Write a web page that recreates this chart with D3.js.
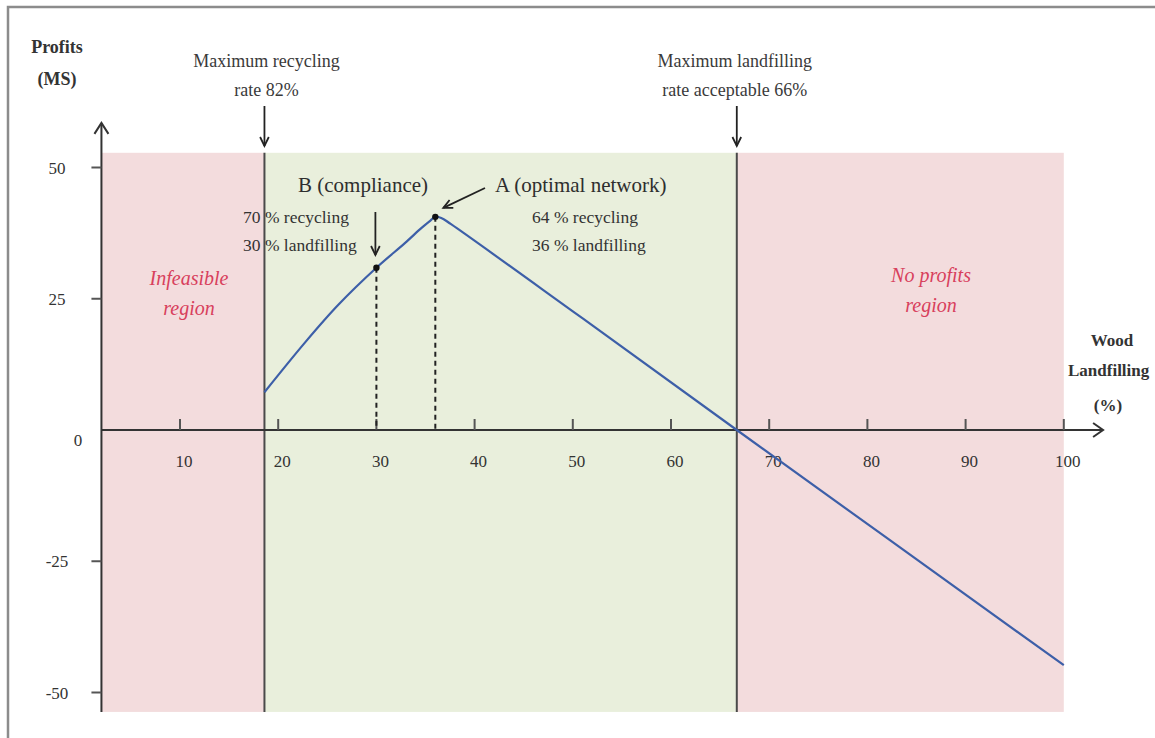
<!DOCTYPE html>
<html>
<head>
<meta charset="utf-8">
<script src="https://cdn.jsdelivr.net/npm/d3@7"></script>
<style>
  html, body { margin: 0; padding: 0; background: #fff; }
  svg { display: block; }
  text { font-family: "Liberation Serif", "Times New Roman", serif; fill: #333; }
</style>
</head>
<body>
<svg id="chart" width="1155" height="738"></svg>
<script>
// ---------------- data ----------------
const xTicks = [10, 20, 30, 40, 50, 60, 70, 80, 90, 100];
const yTicks = [50, 25, -25, -50];
const yTickLabels = ["50", "25", "-25", "-50"];
// profit curve: wood landfilling (%) vs profits (M$)
const curveX = [18.6, 22.7, 26.1, 30, 32.9, 34.6, 35.5, 36, 36.6, 37.6, 50, 66.7, 100];
const curveY = [7.2, 16.6, 23.8, 30.9, 35.6, 38.5, 39.9, 40.6, 40.4, 39.2, 22.6, 0, -44.8];
// highlighted points
const pointNames = ["B", "A"];
const pointX = [30, 36];
const pointY = [30.9, 40.6];
// region boundaries (as drawn): max recycling 82% -> 18% landfilling, max landfilling 66%
const boundX = [18.6, 66.7];
const regionNames = ["infeasible", "feasible", "noprofit"];
const regionFrom = [2, 18.6, 66.7];
const regionTo = [18.6, 66.7, 100];
const regionTop = 52.8, regionBottom = -53.7;
const yAxisAt = 2, xAxisEnd = 104, yAxisTop = 58.5;

// ---------------- scales ----------------
const svg = d3.select("#chart");
const x = d3.scaleLinear().domain([0, 100]).range([81.8, 1063.8]);
const y = d3.scaleLinear().domain([-50, 50]).range([692.5, 167.5]);

const regionFill = { infeasible: "#f3dcdd", feasible: "#e9efdc", noprofit: "#f3dcdd" };

// frame
svg.append("path").attr("d", "M8,738 L8,7 L1155,7")
  .attr("fill", "none").attr("stroke", "#8c8c8c").attr("stroke-width", 2.5);

// regions
svg.selectAll("rect.region").data(regionNames).join("rect")
  .attr("class", "region")
  .attr("x", (d, i) => x(regionFrom[i]))
  .attr("width", (d, i) => x(regionTo[i]) - x(regionFrom[i]))
  .attr("y", y(regionTop))
  .attr("height", y(regionBottom) - y(regionTop))
  .attr("fill", d => regionFill[d]);

// boundary lines
svg.selectAll("line.bound").data(boundX).join("line")
  .attr("x1", d => x(d)).attr("x2", d => x(d))
  .attr("y1", y(regionTop)).attr("y2", y(regionBottom))
  .attr("stroke", "#4a4a4a").attr("stroke-width", 2);

// axes
const axisColor = "#333";
svg.append("line").attr("x1", x(yAxisAt)).attr("x2", x(xAxisEnd))
  .attr("y1", y(0)).attr("y2", y(0)).attr("stroke", axisColor).attr("stroke-width", 2);
svg.append("path")
  .attr("d", `M${x(xAxisEnd) - 10},${y(0) - 7} L${x(xAxisEnd)},${y(0)} L${x(xAxisEnd) - 10},${y(0) + 7}`)
  .attr("fill", "none").attr("stroke", axisColor).attr("stroke-width", 2);
svg.append("line").attr("x1", x(yAxisAt)).attr("x2", x(yAxisAt))
  .attr("y1", y(regionBottom)).attr("y2", y(yAxisTop)).attr("stroke", axisColor).attr("stroke-width", 2);
svg.append("path")
  .attr("d", `M${x(yAxisAt) - 7},${y(yAxisTop) + 11} L${x(yAxisAt)},${y(yAxisTop)} L${x(yAxisAt) + 7},${y(yAxisTop) + 11}`)
  .attr("fill", "none").attr("stroke", axisColor).attr("stroke-width", 2);

// x ticks
svg.selectAll("line.xt").data(xTicks).join("line")
  .attr("x1", d => x(d)).attr("x2", d => x(d))
  .attr("y1", y(0)).attr("y2", y(0) - 11)
  .attr("stroke", "#555").attr("stroke-width", 2);
svg.selectAll("text.xl").data(xTicks).join("text")
  .attr("x", d => x(d) + 4).attr("y", y(0) + 37)
  .attr("text-anchor", "middle").attr("font-size", 17).text(d => d);

// y ticks
svg.selectAll("line.yt").data(yTicks).join("line")
  .attr("x1", x(yAxisAt) - 10).attr("x2", x(yAxisAt))
  .attr("y1", d => y(d)).attr("y2", d => y(d))
  .attr("stroke", "#555").attr("stroke-width", 2);
svg.selectAll("text.yl").data(yTicks).join("text")
  .attr("x", 57).attr("y", d => y(d) + 6)
  .attr("text-anchor", "middle").attr("font-size", 17)
  .text((d, i) => yTickLabels[i]);
svg.append("text").attr("x", 78).attr("y", y(0) + 16)
  .attr("text-anchor", "middle").attr("font-size", 17).text("0");

// axis titles
svg.append("text").attr("x", 57).attr("y", 53).attr("text-anchor", "middle")
  .attr("font-size", 18).attr("font-weight", "bold").text("Profits");
svg.append("text").attr("x", 57).attr("y", 85).attr("text-anchor", "middle")
  .attr("font-size", 18).attr("font-weight", "bold").text("(MS)");
svg.append("text").attr("x", 1112).attr("y", 346).attr("text-anchor", "middle")
  .attr("font-size", 17).attr("font-weight", "bold").text("Wood");
svg.append("text").attr("x", 1068).attr("y", 376).attr("text-anchor", "start")
  .attr("font-size", 17).attr("font-weight", "bold").text("Landfilling");
svg.append("text").attr("x", 1108).attr("y", 411).attr("text-anchor", "middle")
  .attr("font-size", 17).attr("font-weight", "bold").text("(%)");

// dashed drop lines
svg.selectAll("line.drop").data(pointX).join("line")
  .attr("x1", d => x(d)).attr("x2", d => x(d))
  .attr("y1", (d, i) => y(pointY[i])).attr("y2", y(0))
  .attr("stroke", "#222").attr("stroke-width", 2).attr("stroke-dasharray", "5,4");

// curve
const line = d3.line().x(d => x(d[0])).y(d => y(d[1])).curve(d3.curveCatmullRom.alpha(0.5));
svg.append("path").datum(curveX.map((v, i) => [v, curveY[i]]))
  .attr("d", line).attr("fill", "none").attr("stroke", "#3d5fa8").attr("stroke-width", 2.2)
  .attr("stroke-linejoin", "round");

// points
svg.selectAll("circle.pt").data(pointX).join("circle")
  .attr("cx", d => x(d)).attr("cy", (d, i) => y(pointY[i])).attr("r", 3.2).attr("fill", "#111");

// region labels
const redText = "#d8405c";
function twoLines(cx, y1, y2, a, b, size, color, style, weight) {
  [[a, y1], [b, y2]].forEach(([t, yy]) => {
    svg.append("text").attr("x", cx).attr("y", yy).attr("text-anchor", "middle")
      .attr("font-size", size).attr("font-style", style || "normal")
      .attr("font-weight", weight || "normal")
      .style("fill", color).text(t);
  });
}
twoLines(189, 285, 315, "Infeasible", "region", 20, redText, "italic");
twoLines(931, 282, 312, "No profits", "region", 20, redText, "italic");

// top annotations
twoLines(x(boundX[0]) + 2, 67, 96, "Maximum recycling", "rate 82%", 18, "#3a3a3a");
twoLines(x(boundX[1]) - 2, 67, 96, "Maximum landfilling", "rate acceptable 66%", 18, "#3a3a3a");

function arrow(x1, y1, x2, y2) {
  svg.append("line").attr("x1", x1).attr("y1", y1).attr("x2", x2).attr("y2", y2)
    .attr("stroke", "#222").attr("stroke-width", 1.8);
  const ang = Math.atan2(y2 - y1, x2 - x1), L = 10, w = 0.45;
  const p1 = [x2 - L * Math.cos(ang - w), y2 - L * Math.sin(ang - w)];
  const p2 = [x2 - L * Math.cos(ang + w), y2 - L * Math.sin(ang + w)];
  svg.append("path").attr("d", `M${p1} L${x2},${y2} L${p2}`)
    .attr("fill", "none").attr("stroke", "#222").attr("stroke-width", 1.8);
}
arrow(x(boundX[0]), 106, x(boundX[0]), 146);
arrow(x(boundX[1]), 106, x(boundX[1]), 146);

// point annotations
svg.append("text").attr("x", 298).attr("y", 192).attr("font-size", 21).style("fill", "#2e2e2e").text("B (compliance)");
svg.append("text").attr("x", 495).attr("y", 192).attr("font-size", 21).style("fill", "#2e2e2e").text("A (optimal network)");
svg.append("text").attr("x", 243).attr("y", 223).attr("font-size", 17.5).text("70 % recycling");
svg.append("text").attr("x", 243).attr("y", 251).attr("font-size", 17.5).text("30 % landfilling");
svg.append("text").attr("x", 532).attr("y", 223).attr("font-size", 17.5).text("64 % recycling");
svg.append("text").attr("x", 532).attr("y", 251).attr("font-size", 17.5).text("36 % landfilling");
arrow(x(pointX[0]) - 1, 212, x(pointX[0]) - 1, 255);
arrow(485, 188, x(pointX[1]) + 8, y(pointY[1]) - 9);
</script>
</body>
</html>
